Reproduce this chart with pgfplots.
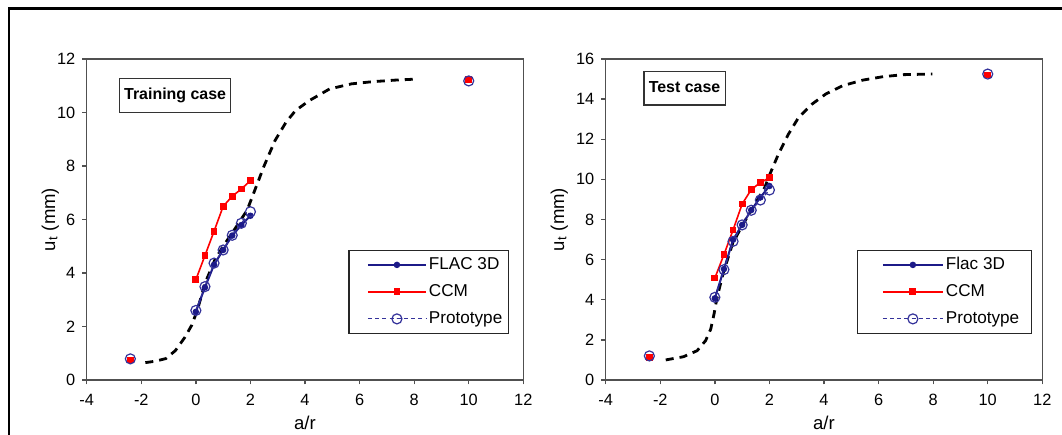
\documentclass[border=0pt]{standalone}
\usepackage{fontspec}
\setmainfont{Liberation Sans}
\usepackage{pgfplots}
\pgfplotsset{compat=1.18}
\definecolor{flac}{HTML}{1C1A88}
\definecolor{proto}{HTML}{34329A}
\definecolor{ccm}{HTML}{FF0000}
\definecolor{axgray}{HTML}{505050}

\pgfplotsset{
  panel/.style={
    scale only axis,
    width=218.3bp, height=160.5bp,
    anchor=south west,
    xmin=-4, xmax=12, ymin=0,
    xtick={-4,-2,...,12},
    tick pos=left, tick align=outside,
    major tick length=2.2bp,
    axis line style={axgray, line width=0.65bp},
    tick style={axgray, line width=0.65bp},
    /pgf/number format/assume math mode=true,
    ticklabel style={font=\fontsize{8.2}{9}\selectfont},
    xticklabel style={yshift=-1.5bp},
    label style={font=\fontsize{9.3}{11}\selectfont},
    xlabel={a/r},
    ylabel={u\textsubscript{t} (mm)},
    legend cell align=left,
    legend style={draw=black!85, line width=0.6bp, inner ysep=1.8bp,
      font=\fontsize{8.6}{10}\selectfont, row sep=2.5bp,
      nodes={inner sep=1bp, text height=7bp, text depth=2bp}},
  },
  curve/.style={black, line width=1.4bp, dash pattern=on 4bp off 3bp, no marks, forget plot},
  flacst/.style={flac, line width=1bp, mark=*, mark size=1.1bp, mark options={solid, fill=flac}},
  ccmst/.style={ccm, line width=0.8bp, mark=square*, mark size=1.3bp, mark options={solid, fill=ccm}},
  protost/.style={proto, line width=0.6bp, dash pattern=on 2bp off 1.6bp, mark=o, mark size=2.5bp, mark options={solid, line width=0.6bp}},
}
\tikzset{
  casebox/.style={draw=black!80, line width=0.6bp, fill=white, font=\bfseries\fontsize{8}{9}\selectfont,
    inner xsep=2.4bp, inner ysep=4.7bp, text height=5.8bp, text depth=1.7bp},
}

\begin{document}
\begin{tikzpicture}
\path (0,0) rectangle (531bp,217.5bp);
\draw[line width=1.1bp] (4.5bp,0) -- (4.5bp,213.2bp) -- (531bp,213.2bp);

% ---- training case ----
\begin{axis}[panel, at={(43.35bp,27.5bp)},
  ymax=12, ytick={0,2,...,12},
  ylabel style={at={(rel axis cs:0,0.5)}, anchor=center, rotate=0, yshift=18.2bp},
  xlabel style={at={(rel axis cs:0.5,0)}, yshift=-21.5bp, anchor=center},
  legend style={at={(0.967,0.143)}, anchor=south east, inner xsep=2bp},
  legend image code/.code={\path (-7bp,0) (0,0);
    \draw[mark repeat=2,mark phase=2] plot coordinates {(0bp,0bp) (14.5bp,0bp) (29bp,0bp)};},
]
\addplot[curve] coordinates {(-1.85,0.65) (-1.5,0.7) (-1.1,0.8) (-0.75,1.1) (-0.4,1.6)
  (-0.15,2.05) (0.05,2.6) (0.35,3.65) (0.7,4.5) (1.0,5.0) (1.4,5.6) (1.88,6.35) (2.2,7.2)
  (2.5,8.0) (2.9,8.95) (3.3,9.63) (3.65,10.07) (4.15,10.44) (4.9,10.88) (5.7,11.07)
  (6.45,11.15) (7.3,11.21) (8.1,11.25)};
\addplot[flacst] coordinates {(0,2.55) (0.333,3.46) (0.667,4.31) (1,4.86) (1.333,5.40) (1.667,5.79) (2,6.14)};
\addlegendentry{FLAC 3D}
\addplot[ccmst] coordinates {(0,3.75) (0.333,4.65) (0.667,5.56) (1,6.49) (1.333,6.87) (1.667,7.14) (2,7.45)};
\addlegendentry{CCM}
\addplot[protost] coordinates {(0,2.6) (0.333,3.49) (0.667,4.37) (1,4.86) (1.333,5.41) (1.667,5.86) (2,6.29)};
\addlegendentry{Prototype}
\addplot[ccmst, only marks, forget plot] coordinates {(-2.4,0.75) (10,11.23)};
\addplot[protost, only marks, forget plot] coordinates {(-2.4,0.79) (10,11.18)};
\node[casebox] at (axis cs:-0.76,10.64) {Training case};
\end{axis}

% ---- test case ----
\begin{axis}[panel, at={(302.85bp,27.5bp)},
  ymax=16, ytick={0,2,...,16},
  ylabel style={at={(rel axis cs:0,0.5)}, anchor=center, rotate=0, yshift=23.2bp},
  xlabel style={at={(rel axis cs:0.5,0)}, yshift=-21.5bp, anchor=center},
  legend style={at={(0.976,0.143)}, anchor=south east, inner xsep=5bp},
  legend image code/.code={\path (-7bp,0) (0,0);
    \draw[mark repeat=2,mark phase=2] plot coordinates {(0bp,0bp) (15bp,0bp) (30bp,0bp)};},
]
\addplot[curve] coordinates {(-1.8,1.0) (-1.15,1.16) (-0.65,1.46) (-0.34,1.96) (-0.15,2.54)
  (-0.03,3.29) (0.07,4.04) (0.3,5.3) (0.65,6.8) (1.0,7.7) (1.4,8.6) (1.83,9.6) (2.02,10.27)
  (2.33,11.26) (2.7,12.26) (3.07,13.09) (3.57,13.76) (4.06,14.25) (4.68,14.67) (5.43,14.95)
  (6.17,15.12) (6.92,15.22) (7.97,15.25)};
\addplot[flacst] coordinates {(0,4.07) (0.333,5.53) (0.667,6.99) (1,7.73) (1.333,8.47) (1.667,9.1) (2,9.67)};
\addlegendentry{Flac 3D}
\addplot[ccmst] coordinates {(0,5.08) (0.333,6.25) (0.667,7.48) (1,8.77) (1.333,9.49) (1.667,9.84) (2,10.08)};
\addlegendentry{CCM}
\addplot[protost] coordinates {(0,4.12) (0.333,5.5) (0.667,6.91) (1,7.73) (1.333,8.46) (1.667,8.97) (2,9.47)};
\addlegendentry{Prototype}
\addplot[ccmst, only marks, forget plot] coordinates {(-2.4,1.13) (10,15.2)};
\addplot[protost, only marks, forget plot] coordinates {(-2.4,1.2) (10,15.25)};
\node[casebox] at (axis cs:-1.11,14.55) {Test case};
\end{axis}

\pgfresetboundingbox
\path (0,0) rectangle (531bp,217.5bp);
\end{tikzpicture}
\end{document}
